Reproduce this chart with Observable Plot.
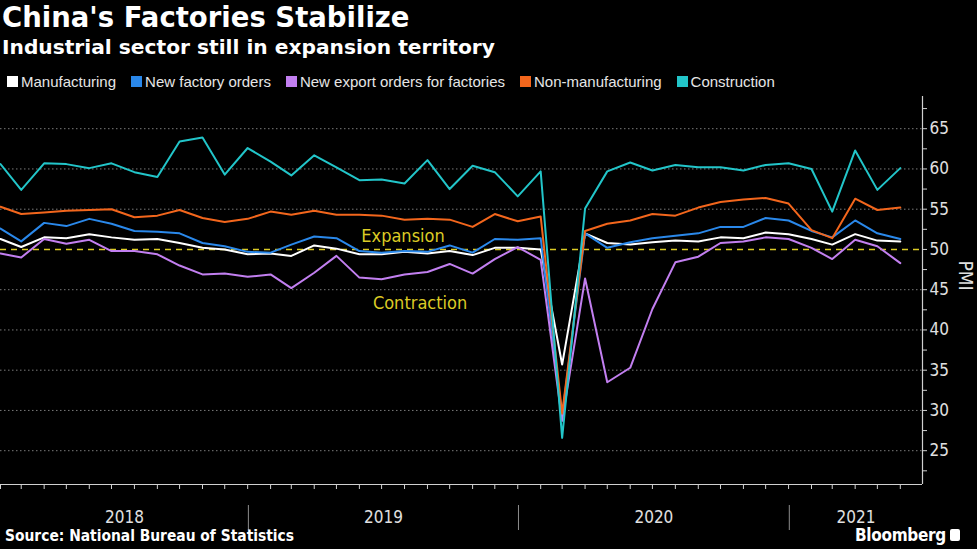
<!DOCTYPE html>
<html>
<head>
<meta charset="utf-8">
<script src="https://cdn.jsdelivr.net/npm/d3@7"></script>
<script src="https://cdn.jsdelivr.net/npm/@observablehq/plot@0.6"></script>
<style>
  html, body { margin: 0; padding: 0; background: #000; }
  #page { position: relative; width: 977px; height: 549px; overflow: hidden; background: #000; color: #fff; font-family: "DejaVu Sans", sans-serif; }
  #title { position: absolute; left: 2px; top: 1px; font-weight: bold; font-size: 27.5px; color: #fff; white-space: nowrap; }
  #subtitle { position: absolute; left: 2px; top: 35px; font-weight: bold; font-size: 20.2px; color: #fff; white-space: nowrap; }
  #legend { position: absolute; left: 7px; top: 73px; display: flex; align-items: center; font-family: "Liberation Sans", Arial, sans-serif; font-size: 15px; color: #e6e6e6; white-space: nowrap; }
  #legend .item { display: flex; align-items: center; margin-right: 15px; }
  #legend .sw { width: 11px; height: 11px; margin-right: 3px; }
  #chart { position: absolute; left: 0; top: 92px; }
  #chart svg text { font-stretch: condensed; }
  #source { position: absolute; left: 5px; top: 527px; font-family: "DejaVu Sans Condensed", "DejaVu Sans", sans-serif; font-stretch: condensed; font-weight: bold; font-size: 15.4px; color: #fff; white-space: nowrap; }
  #brand { position: absolute; left: 855px; top: 525px; display: flex; align-items: center; font-family: "DejaVu Sans Condensed", "DejaVu Sans", sans-serif; font-stretch: condensed; font-weight: bold; font-size: 17px; color: #fff; letter-spacing: -0.3px; }
  #brand .mark { display: inline-block; width: 10px; height: 12px; margin-left: 4px; border-radius: 2px; background: #fff; }
</style>
</head>
<body>
<div id="page">
  <div id="title">China's Factories Stabilize</div>
  <div id="subtitle">Industrial sector still in expansion territory</div>
  <div id="legend"></div>
  <div id="chart"></div>
  <div id="source">Source: National Bureau of Statistics</div>
  <div id="brand"><span>Bloomberg</span><span class="mark"></span></div>
</div>
<script>
// Official NBS purchasing managers' indexes, monthly, Jan 2018 – May 2021
const firstYear = 2018;
const years = [2018, 2019, 2020, 2021];

const manufacturing = [
  51.3, 50.3, 51.5, 51.4, 51.9, 51.5, 51.2, 51.3, 50.8, 50.2, 50.0, 49.4,
  49.5, 49.2, 50.5, 50.1, 49.4, 49.4, 49.7, 49.5, 49.8, 49.3, 50.2, 50.2,
  50.0, 35.7, 52.0, 50.8, 50.6, 50.9, 51.1, 51.0, 51.5, 51.4, 52.1, 51.9,
  51.3, 50.6, 51.9, 51.1, 51.0
];
const newFactoryOrders = [
  52.6, 51.0, 53.3, 52.9, 53.8, 53.2, 52.3, 52.2, 52.0, 50.8, 50.4, 49.7,
  49.6, 50.6, 51.6, 51.4, 49.8, 49.6, 49.8, 49.7, 50.5, 49.6, 51.3, 51.2,
  51.4, 29.3, 52.0, 50.2, 50.9, 51.4, 51.7, 52.0, 52.8, 52.8, 53.9, 53.6,
  52.3, 51.5, 53.6, 52.0, 51.3
];
const newExportOrders = [
  49.5, 49.0, 51.3, 50.7, 51.2, 49.8, 49.8, 49.4, 48.0, 46.9, 47.0, 46.6,
  46.9, 45.2, 47.1, 49.2, 46.5, 46.3, 46.9, 47.2, 48.2, 47.0, 48.8, 50.3,
  48.7, 28.7, 46.4, 33.5, 35.3, 42.6, 48.4, 49.1, 50.8, 51.0, 51.5, 51.3,
  50.2, 48.8, 51.2, 50.4, 48.3
];
const nonManufacturing = [
  55.3, 54.4, 54.6, 54.8, 54.9, 55.0, 54.0, 54.2, 54.9, 53.9, 53.4, 53.8,
  54.7, 54.3, 54.8, 54.3, 54.3, 54.2, 53.7, 53.8, 53.7, 52.8, 54.4, 53.5,
  54.1, 29.6, 52.3, 53.2, 53.6, 54.4, 54.2, 55.2, 55.9, 56.2, 56.4, 55.7,
  52.4, 51.4, 56.3, 54.9, 55.2
];
const construction = [
  60.6, 57.4, 60.7, 60.6, 60.1, 60.7, 59.6, 59.0, 63.4, 63.9, 59.3, 62.6,
  60.9, 59.2, 61.7, 60.2, 58.6, 58.7, 58.2, 61.1, 57.5, 60.4, 59.6, 56.6,
  59.7, 26.6, 55.1, 59.7, 60.8, 59.8, 60.5, 60.2, 60.2, 59.8, 60.5, 60.7,
  60.0, 54.7, 62.3, 57.4, 60.1
];

const seriesNames = ["Manufacturing", "New factory orders", "New export orders for factories", "Non-manufacturing", "Construction"];
const seriesColors = ["#ffffff", "#2a88ea", "#c27ff0", "#f3661c", "#22c5c9"];
const seriesValues = [manufacturing, newFactoryOrders, newExportOrders, nonManufacturing, construction];

const yTicks = [25, 30, 35, 40, 45, 50, 55, 60, 65];
const threshold = 50;
const expansionLabel = {text: "Expansion", date: "2019-07-29"};
const contractionLabel = {text: "Contraction", date: "2019-08-21"};
const gold = "#dccb25";

// Readings are stamped at the last day of their month
const monthEnd = i => new Date(Date.UTC(firstYear, i + 1, 0));
const dates = manufacturing.map((_, i) => monthEnd(i));

const rows = seriesNames.flatMap((name, s) =>
  seriesValues[s].map((v, i) => ({date: dates[i], value: v, series: name})));

const xDomain = [dates[0], new Date(Date.UTC(2021, 5, 30))];
const yDomain = [20.8, 69];

const yearStarts = years.slice(1).map(y => new Date(Date.UTC(y, 0, 1)));
const yearBands = years.map((y, i) => {
  const a = i === 0 ? xDomain[0] : yearStarts[i - 1];
  const b = i === years.length - 1 ? xDomain[1] : yearStarts[i];
  return {year: String(y), mid: new Date((+a + +b) / 2)};
});
const minorTicks = yTicks.map(t => t + 2.5).concat([22.5]);

// Legend
const legend = document.getElementById("legend");
seriesNames.forEach((name, i) => {
  const item = document.createElement("div");
  item.className = "item";
  item.innerHTML = `<span class="sw" style="background:${seriesColors[i]}"></span><span>${name}</span>`;
  legend.appendChild(item);
});

const fontCond = '"DejaVu Sans Condensed", "DejaVu Sans", sans-serif';
const zoneText = (d, dy) => Plot.text([d], {x: z => new Date(z.date), y: () => threshold, text: "text", dy, fill: gold, fontSize: 18});

const chart = Plot.plot({
  width: 977,
  height: 440,
  marginTop: 4,
  marginBottom: 48,
  marginLeft: 0,
  marginRight: 55,
  style: {background: "#000", color: "#e0e0e0", fontFamily: fontCond, fontSize: "16px"},
  x: {type: "utc", domain: xDomain, label: null},
  y: {domain: yDomain, label: null},
  color: {domain: seriesNames, range: seriesColors},
  marks: [
    Plot.ruleY(yTicks.filter(t => t !== threshold), {stroke: "#7a7a7a", strokeDasharray: "1.5,2.5", strokeWidth: 1}),
    Plot.ruleY([threshold], {stroke: gold, strokeDasharray: "6,5", strokeWidth: 1.4}),
    Plot.lineY(rows, {x: "date", y: "value", z: "series", stroke: "series", strokeWidth: 2, curve: "linear"}),
    Plot.ruleY([yDomain[0]], {stroke: "#d0d0d0", strokeWidth: 1.2}),
    Plot.ruleX([xDomain[1]], {stroke: "#d0d0d0", strokeWidth: 1.2}),
    Plot.axisX({ticks: dates, tickSize: 5, tickFormat: () => "", stroke: "#d0d0d0", label: null}),
    Plot.axisY({anchor: "right", ticks: yTicks, tickSize: 4, tickPadding: 3, label: null, stroke: "#d0d0d0", fill: "#e0e0e0", fontSize: 17}),
    Plot.axisY({anchor: "right", ticks: minorTicks, tickSize: 4, tickFormat: () => "", stroke: "#d0d0d0", label: null}),
    Plot.tickX(yearStarts, {x: d => d, insetTop: 409, insetBottom: -46, stroke: "#8c8c8c", strokeWidth: 1}),
    Plot.text(yearBands, {x: "mid", text: "year", frameAnchor: "bottom", dy: 38, fill: "#e0e0e0", fontSize: 17}),
    Plot.text(["PMI"], {frameAnchor: "right", dx: 43, rotate: 90, fill: "#e0e0e0", fontSize: 19}),
    zoneText(expansionLabel, -13),
    zoneText(contractionLabel, 54)
  ]
});
document.getElementById("chart").appendChild(chart);
</script>
</body>
</html>
